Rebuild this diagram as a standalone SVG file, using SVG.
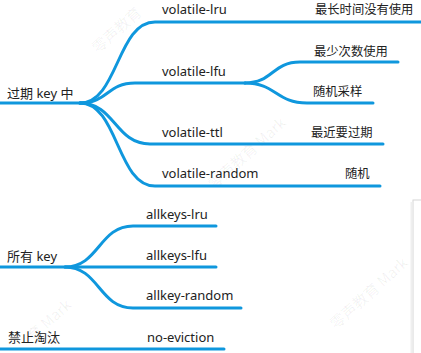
<svg xmlns="http://www.w3.org/2000/svg" width="421" height="353" viewBox="0 0 421 353">
<style>
.c{fill:none;stroke:#0f97dd;stroke-width:3;stroke-linecap:round}
.t{font-family:"Noto Sans","Noto Sans CJK SC",sans-serif;font-size:13px;fill:#222}
.z{font-family:"Noto Sans CJK SC",sans-serif;font-size:12.3px;fill:#222}
.w{font-family:"Noto Sans CJK SC",sans-serif;font-size:15px;fill:#000;fill-opacity:0.06}
</style>
<rect width="421" height="353" fill="#fff"/>
<g id="watermarks">
<text class="w" transform="translate(98,54) rotate(-42)">零声教育</text>
<text class="w" transform="translate(214,190) rotate(-42)">零声教育 Mark</text>
<text class="w" transform="translate(33,342) rotate(-42)">育 Mark</text>
<text class="w" transform="translate(336,330) rotate(-42)">零声教育 Mark</text>
</g>
<g id="panel">
<rect x="413" y="200" width="20" height="160" fill="#fff" stroke="#d6d6d6" stroke-width="1"/>
<line x1="411.5" y1="202" x2="411.5" y2="353" stroke="#efefef" stroke-width="2"/>
</g>
<g id="connectors">
<path class="c" d="M0,103 H80"/>
<path class="c" d="M80,103 C118,103 117,22 155,22 H421"/>
<path class="c" d="M80,103 C108,103 107,83 135,83 H245"/>
<path class="c" d="M80,103 C115,103 115,144 150,144 H383"/>
<path class="c" d="M80,103 C118,103 117,186 155,186 H380"/>
<path class="c" d="M245,83 C273,83 272,62 300,62 H398"/>
<path class="c" d="M245,83 C276,83 276,103 307,103 H373"/>
<path class="c" d="M0,267 H216"/>
<path class="c" d="M65,267 C99,267 99,226 133,226 H216"/>
<path class="c" d="M65,267 C99,267 99,308 133,308 H241"/>
<path class="c" d="M0,349 H224"/>
</g>
<g id="n-expire"><text class="t" x="7" y="98">过期 key 中</text></g>
<g id="n-vlru"><text class="t" x="162" y="14">volatile-lru</text></g>
<g id="n-vlru-d"><text class="z" x="315" y="14">最长时间没有使用</text></g>
<g id="n-vlfu"><text class="t" x="162" y="76">volatile-lfu</text></g>
<g id="n-vlfu-d1"><text class="z" x="314" y="56">最少次数使用</text></g>
<g id="n-vlfu-d2"><text class="z" x="313" y="96">随机采样</text></g>
<g id="n-vttl"><text class="t" x="162" y="137">volatile-ttl</text></g>
<g id="n-vttl-d"><text class="z" x="311" y="137">最近要过期</text></g>
<g id="n-vrand"><text class="t" x="162" y="178">volatile-random</text></g>
<g id="n-vrand-d"><text class="z" x="345" y="178">随机</text></g>
<g id="n-all"><text class="t" x="7" y="261">所有 key</text></g>
<g id="n-alru"><text class="t" x="146" y="219">allkeys-lru</text></g>
<g id="n-alfu"><text class="t" x="146" y="260">allkeys-lfu</text></g>
<g id="n-arand"><text class="t" x="146" y="300">allkey-random</text></g>
<g id="n-noev"><text class="t" x="8" y="342">禁止淘汰</text></g>
<g id="n-noev2"><text class="t" x="147" y="342">no-eviction</text></g>
</svg>
